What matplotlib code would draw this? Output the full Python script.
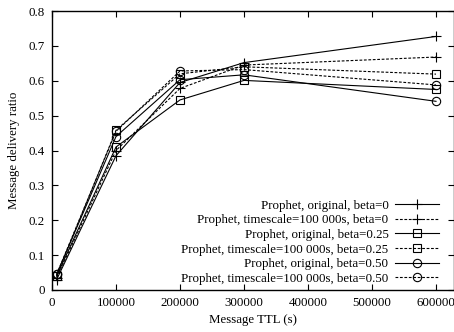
import matplotlib
matplotlib.use("Agg")
import matplotlib.pyplot as plt

# TTL values (s) and delivery ratios
ttl = [7200, 100000, 200000, 300000, 600000]
orig_b0 = [0.030, 0.385, 0.595, 0.652, 0.727]
ts_b0 = [0.035, 0.400, 0.578, 0.645, 0.668]
orig_b025 = [0.040, 0.410, 0.545, 0.601, 0.575]
ts_b025 = [0.040, 0.458, 0.620, 0.640, 0.619]
orig_b050 = [0.045, 0.440, 0.603, 0.617, 0.541]
ts_b050 = [0.045, 0.455, 0.628, 0.632, 0.588]

labels = ["Prophet, original, beta=0",
          "Prophet, timescale=100 000s, beta=0",
          "Prophet, original, beta=0.25",
          "Prophet, timescale=100 000s, beta=0.25",
          "Prophet, original, beta=0.50",
          "Prophet, timescale=100 000s, beta=0.50"]

plt.rcParams['font.family'] = ['Liberation Serif', 'DejaVu Serif']
plt.rcParams['font.size'] = 9.3

fig = plt.figure(figsize=(4.54, 3.32), dpi=100)
ax = fig.add_axes([52/454, 42/332, 402/454, 279/332])

series = [orig_b0, ts_b0, orig_b025, ts_b025, orig_b050, ts_b050]
markers = ['+', '+', 's', 's', 'o', 'o']
sizes = [7, 7, 6, 6, 6, 6]
for i, y in enumerate(series):
    ls = '-' if i % 2 == 0 else (0, (2.5, 1.5))
    ax.plot(ttl, y, color='black', linestyle=ls, linewidth=0.8,
            marker=markers[i], markersize=sizes[i], markerfacecolor='none',
            markeredgewidth=0.8, label=labels[i])

ax.set_xlim(0, 628125)
ax.set_ylim(0, 0.8)
ax.set_xticks([0, 100000, 200000, 300000, 400000, 500000, 600000])
ax.set_xticklabels(['0', '100000', '200000', '300000', '400000', '500000', '600000'])
ax.set_yticks([0, 0.1, 0.2, 0.3, 0.4, 0.5, 0.6, 0.7, 0.8])
ax.set_yticklabels(['0', '0.1', '0.2', '0.3', '0.4', '0.5', '0.6', '0.7', '0.8'])
ax.tick_params(direction='in', top=True, right=True, length=4, width=0.8, pad=5)
for s in ax.spines.values():
    s.set_linewidth(1.0)

ax.set_xlabel('Message TTL (s)', labelpad=4)
ax.set_ylabel('Message delivery ratio', labelpad=6)

ax.legend(loc='lower right', frameon=False, markerfirst=False, numpoints=1,
          handlelength=3.4, labelspacing=0.2, handletextpad=0.5,
          borderaxespad=0.0, bbox_to_anchor=(0.975, 0.0))

fig.savefig('out.png', dpi=100)
